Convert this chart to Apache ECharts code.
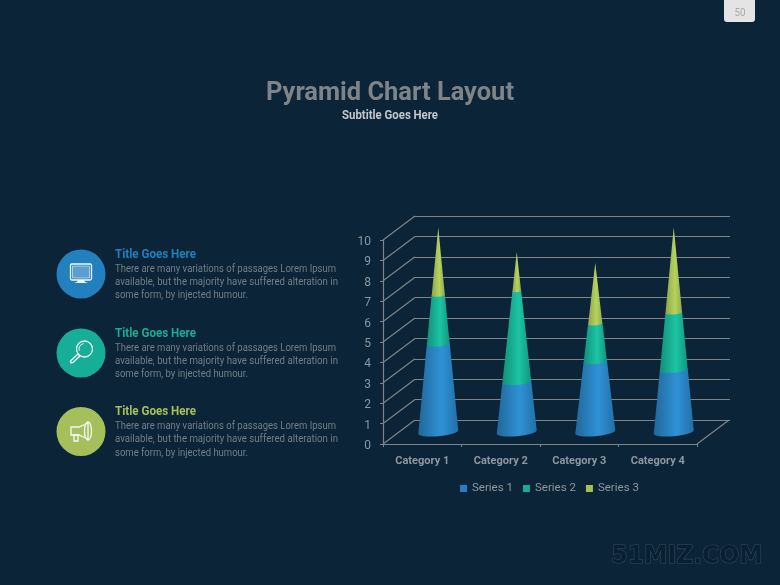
<!DOCTYPE html>
<html><head><meta charset="utf-8">
<style>html,body{margin:0;padding:0;background:#0b2437}#c{width:780px;height:585px}</style>
<script src="https://cdn.jsdelivr.net/npm/echarts@6/dist/echarts.min.js"></script>
</head><body><div id="c"></div>
<script>
var categories = ['Category 1','Category 2','Category 3','Category 4'];
var series1 = [4.3,2.45,3.45,3.05];
var series2 = [2.4,4.45,1.85,2.8];
var series3 = [3.3,1.9,2.95,4.15];
var seriesNames = ['Series 1','Series 2','Series 3'];
var yTicks = [0,1,2,3,4,5,6,7,8,9,10];
var title = 'Pyramid Chart Layout';
var subtitle = 'Subtitle Goes Here';
var itemTitle = 'Title Goes Here';
var bodyLines = ['There are many variations of passages Lorem Ipsum','available, but the majority have suffered alteration in','some form, by injected humour.'];
var pageNo = '50';
var watermark = '51MIZ.COM';

var BG='#0b2437', GRID='#7d8589', TXT='#8d979e';
var DEPTH_X=32, DEPTH_Y=24;
var shades=[['#21679a','#2f92d6','#226fa6'],['#118f7c','#1cc4a4','#119680'],['#8ba64a','#b7d25e','#8fab4c']];
var solid=['#2280c4','#15ad94','#a6c153'];
var all=[series1,series2,series3];

function coneSeries(s){
  var data=categories.map(function(_,i){
    var lo=0; for(var k=0;k<s;k++) lo+=all[k][i];
    return [i,lo,lo+all[s][i],series1[i]+series2[i]+series3[i]];
  });
  return {name:seriesNames[s],type:'custom',coordinateSystem:'cartesian2d',xAxisIndex:0,yAxisIndex:0,
    itemStyle:{color:solid[s]},encode:{x:0,y:2},data:data,z:5,
    renderItem:function(p,api){
      var i=api.value(0),lo=api.value(1),hi=api.value(2),tot=api.value(3);
      var a=api.coord([i,lo]),b=api.coord([i,hi]);
      var cx=a[0]+DEPTH_X/2, R=20;
      var rlo=R*(1-lo/tot), rhi=R*(1-hi/tot);
      var ylo=a[1]-DEPTH_Y/2, yhi=b[1]-DEPTH_Y/2-0.8;
      function rim(r,y,rev){
        var pts=[];
        for(var n=0;n<=16;n++){
          var t=Math.PI*n/16; if(rev)t=Math.PI-t;
          pts.push([cx-r*Math.cos(t), y+0.085*r*Math.cos(t)+0.21*r*Math.sin(t)]);
        }
        return pts;
      }
      var pts=rim(rlo,ylo,false).concat(rim(rhi,yhi,true));
      return {type:'polygon',shape:{points:pts},style:{
        fill:new echarts.graphic.LinearGradient(0,0,1,0,[{offset:0,color:shades[s][0]},{offset:0.58,color:shades[s][1]},{offset:1,color:shades[s][2]}])
      }};
    }};
}
var wallSeries={type:'custom',xAxisIndex:0,yAxisIndex:0,z:1,silent:true,encode:{y:0},data:yTicks.map(function(v){return [v];}),
  renderItem:function(p,api){
    var v=api.value(0), c=api.coord([0,v]), h=api.size([1,0])[0]/2;
    return {type:'line',shape:{x1:c[0]-h,y1:c[1],x2:c[0]-h+DEPTH_X,y2:c[1]-DEPTH_Y},style:{stroke:GRID,lineWidth:1.2}};
  }};
var floorSeries={type:'custom',xAxisIndex:0,yAxisIndex:0,z:1,silent:true,encode:{y:1},data:[[categories.length-1,0]],
  renderItem:function(p,api){
    var c=api.coord([api.value(0),0]), h=api.size([1,0])[0]/2;
    return {type:'line',shape:{x1:c[0]+h,y1:c[1],x2:c[0]+h+DEPTH_X,y2:c[1]-DEPTH_Y},style:{stroke:GRID,lineWidth:1.2}};
  }};

var meas=document.createElement('canvas').getContext('2d');
function fit(str,font,w){meas.font=font;return w/meas.measureText(str).width;}
function label(str,x,y,font,fill,w,align){
  return {type:'text',x:x,y:y,scaleX:fit(str,font,w),silent:true,z:20,
    style:{text:str,font:font,fill:fill,textAlign:align||'left',textVerticalAlign:'middle',textBaseline:'middle'}};
}
var FN='Roboto, sans-serif';
var gfx=[];
gfx.push({type:'rect',shape:{x:724,y:-6,width:31,height:28,r:3},style:{fill:'#e4e4e4'},silent:true});
gfx.push(label(pageNo,740,13,'10px '+FN,'#a9a9a9',11,'center'));
gfx.push(label(title,390,93,'bold 26px '+FN,'#7f8488',248,'center'));
gfx.push(label(subtitle,390,116,'bold 12px '+FN,'#c3c7ca',96,'center'));
gfx.push({type:'text',x:687,y:556,silent:true,
  style:{text:watermark,font:'bold 25px "DejaVu Sans", sans-serif',fill:'#0a2032',stroke:'#2f4b60',lineWidth:1.2,textAlign:'center',textVerticalAlign:'middle',textBaseline:'middle'},
  scaleX:0.94});

var rows=[{y:274,c:'#2280be',t:'#2280be'},{y:353,c:'#17ae98',t:'#17ae98'},{y:431.5,c:'#a5c05a',t:'#a5c05a'}];
var WS=[221,223,133];
rows.forEach(function(r){
  gfx.push({type:'circle',shape:{cx:81,cy:r.y,r:24.5},style:{fill:r.c},silent:true});
  gfx.push(label(itemTitle,115,r.y-19.5,'bold 12px '+FN,r.t,81));
  bodyLines.forEach(function(l,k){
    gfx.push(label(l,115,r.y-5+k*13.3,'10px '+FN,'#727f88',WS[k]));
  });
});
var ICON={stroke:'#f4f8fb',fill:'none',lineWidth:1.3};
// monitor
gfx.push({type:'rect',shape:{x:70.5,y:264,width:21,height:16,r:1.5},style:ICON,silent:true});
gfx.push({type:'rect',shape:{x:72.5,y:266,width:17,height:12},style:{fill:'#5a9fd0',stroke:'#f4f8fb',lineWidth:0.6},silent:true});
gfx.push({type:'polygon',shape:{points:[[78,280],[84,280],[85,282],[88,283],[74,283],[77,282]]},style:{fill:'#f4f8fb'},silent:true});
// magnifier
gfx.push({type:'circle',shape:{cx:84.5,cy:349,r:8},style:ICON,silent:true});
gfx.push({type:'arc',shape:{cx:84.5,cy:349,r:5.5,startAngle:Math.PI*0.9,endAngle:Math.PI*1.45,clockwise:true},style:{stroke:'#f4f8fb',fill:'none',lineWidth:1},silent:true});
gfx.push({type:'polygon',shape:{points:[[78,354],[80,356],[73,362.5],[71,363],[70.5,361]]},style:ICON,silent:true});
// megaphone
gfx.push({type:'polygon',shape:{points:[[71,427],[79,427],[88,423],[88,439],[79,435],[71,435]]},style:ICON,silent:true});
gfx.push({type:'ellipse',shape:{cx:88,cy:431,rx:3.5,ry:9},style:ICON,silent:true});
gfx.push({type:'polygon',shape:{points:[[74,435],[78,435],[78,441],[74,441]]},style:ICON,silent:true});

var chart=echarts.init(document.getElementById('c'),null,{renderer:'canvas'});
chart.setOption({
  animation:false,backgroundColor:BG,
  legend:{data:seriesNames,left:455,top:477.5,icon:'rect',itemWidth:7,itemHeight:7,itemGap:10,
    textStyle:{color:TXT,fontFamily:'Roboto',fontSize:11.5}},
  grid:[{left:383,right:83,top:240,bottom:141},{left:415,right:50,top:216,bottom:165}],
  xAxis:[
    {type:'category',gridIndex:0,data:categories,
     axisLine:{lineStyle:{color:GRID,width:1.2}},axisTick:{show:true,length:3,lineStyle:{color:GRID}},
     axisLabel:{color:TXT,fontWeight:'bold',fontFamily:'Roboto',fontSize:11,margin:12,interval:0},splitLine:{show:false}},
    {type:'category',gridIndex:1,data:categories,show:false}
  ],
  yAxis:[
    {type:'value',gridIndex:0,min:0,max:10,interval:1,
     axisLine:{show:true,lineStyle:{color:GRID,width:1.2}},axisTick:{show:true,length:3,lineStyle:{color:GRID}},
     axisLabel:{color:TXT,fontFamily:'Roboto',fontSize:12,margin:12,verticalAlign:'top',lineHeight:4},splitLine:{show:false}},
    {type:'value',gridIndex:1,min:0,max:10,interval:1,
     axisLine:{show:false},axisTick:{show:false},axisLabel:{show:false},
     splitLine:{show:true,lineStyle:{color:GRID,width:1.2}}}
  ],
  series:[wallSeries,floorSeries,coneSeries(0),coneSeries(1),coneSeries(2)],
  graphic:{elements:gfx}
});
</script></body></html>
